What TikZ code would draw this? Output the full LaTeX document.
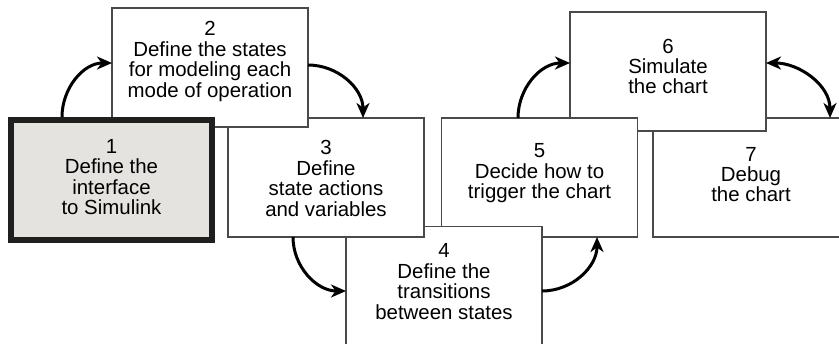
\documentclass[tikz,border=0pt]{standalone}
\usepackage{fontspec}
\setmainfont{Liberation Sans}
\usetikzlibrary{arrows.meta}
\definecolor{boxgray}{HTML}{E4E3E0}
\definecolor{edge}{HTML}{4A4A4A}
\begin{document}
\begin{tikzpicture}[x=1bp,y=-1bp,
  box/.style={draw=edge,line width=1.3bp,fill=white,rectangle,minimum width=196bp,minimum height=119bp,inner sep=0pt,outer sep=0pt},
  mainbox/.style={draw=black!88,line width=6bp,fill=boxgray,rectangle,minimum width=201bp,minimum height=120bp,inner sep=0pt},
  lbl/.style={align=center,font=\fontsize{20.5}{20.5}\selectfont,inner sep=0pt},
  arr/.style={line width=3bp,-{Stealth[length=15bp,width=13bp,inset=4.5bp]}},
  darr/.style={line width=3bp,{Stealth[length=15bp,width=13bp,inset=4.5bp]}-{Stealth[length=15bp,width=13bp,inset=4.5bp]}}]
\useasboundingbox (0,0) rectangle (839,343);
\node[box] (b7) at (751,177.5) {};
\node[lbl] (t7) at ([yshift=3bp]b7.center) {7\\Debug\\the chart};
\node[box] (b6) at (668,71.5) {};
\node[lbl] (t6) at ([yshift=5bp]b6.center) {6\\Simulate\\the chart};
\node[box] (b5) at (539.5,177.5) {};
\node[lbl] (t5) at ([yshift=4bp]b5.center) {5\\Decide how to\\trigger the chart};
\node[box] (b4) at (444,286) {};
\node[lbl] (t4) at ([yshift=4.5bp]b4.center) {4\\Define the\\transitions\\between states};
\node[box] (b3) at (326,177.5) {};
\node[lbl] (t3) at ([yshift=-1bp]b3.center) {3\\Define\\state actions\\and variables};
\node[box] (b2) at (210,67.5) {};
\node[lbl] (t2) at ([yshift=6bp]b2.center) {2\\Define the states\\for modeling each\\mode of operation};
\node[mainbox] (b1) at (111.5,180) {};
\node[lbl] (t1) at ([yshift=3bp]b1.center) {1\\Define the\\interface\\to Simulink};
\draw[arr] ([xshift=-49.5bp]b1.north) to[out=90,in=180] ([yshift=4.5bp]b2.west);
\draw[arr] ([yshift=2.5bp]b2.east) to[out=0,in=90] ([xshift=37bp]b3.north);
\draw[arr] ([xshift=-33bp]b3.south) to[out=-90,in=180] ([yshift=-5bp]b4.west);
\draw[arr] ([yshift=-5bp]b4.east) to[out=0,in=-90] ([xshift=57.5bp]b5.south);
\draw[arr] ([xshift=-21.5bp]b5.north) to[out=90,in=180] ([yshift=8.5bp]b6.west);
\draw[darr] ([yshift=8.5bp]b6.east) to[out=0,in=90] ([xshift=79bp]b7.north);
\end{tikzpicture}
\end{document}
